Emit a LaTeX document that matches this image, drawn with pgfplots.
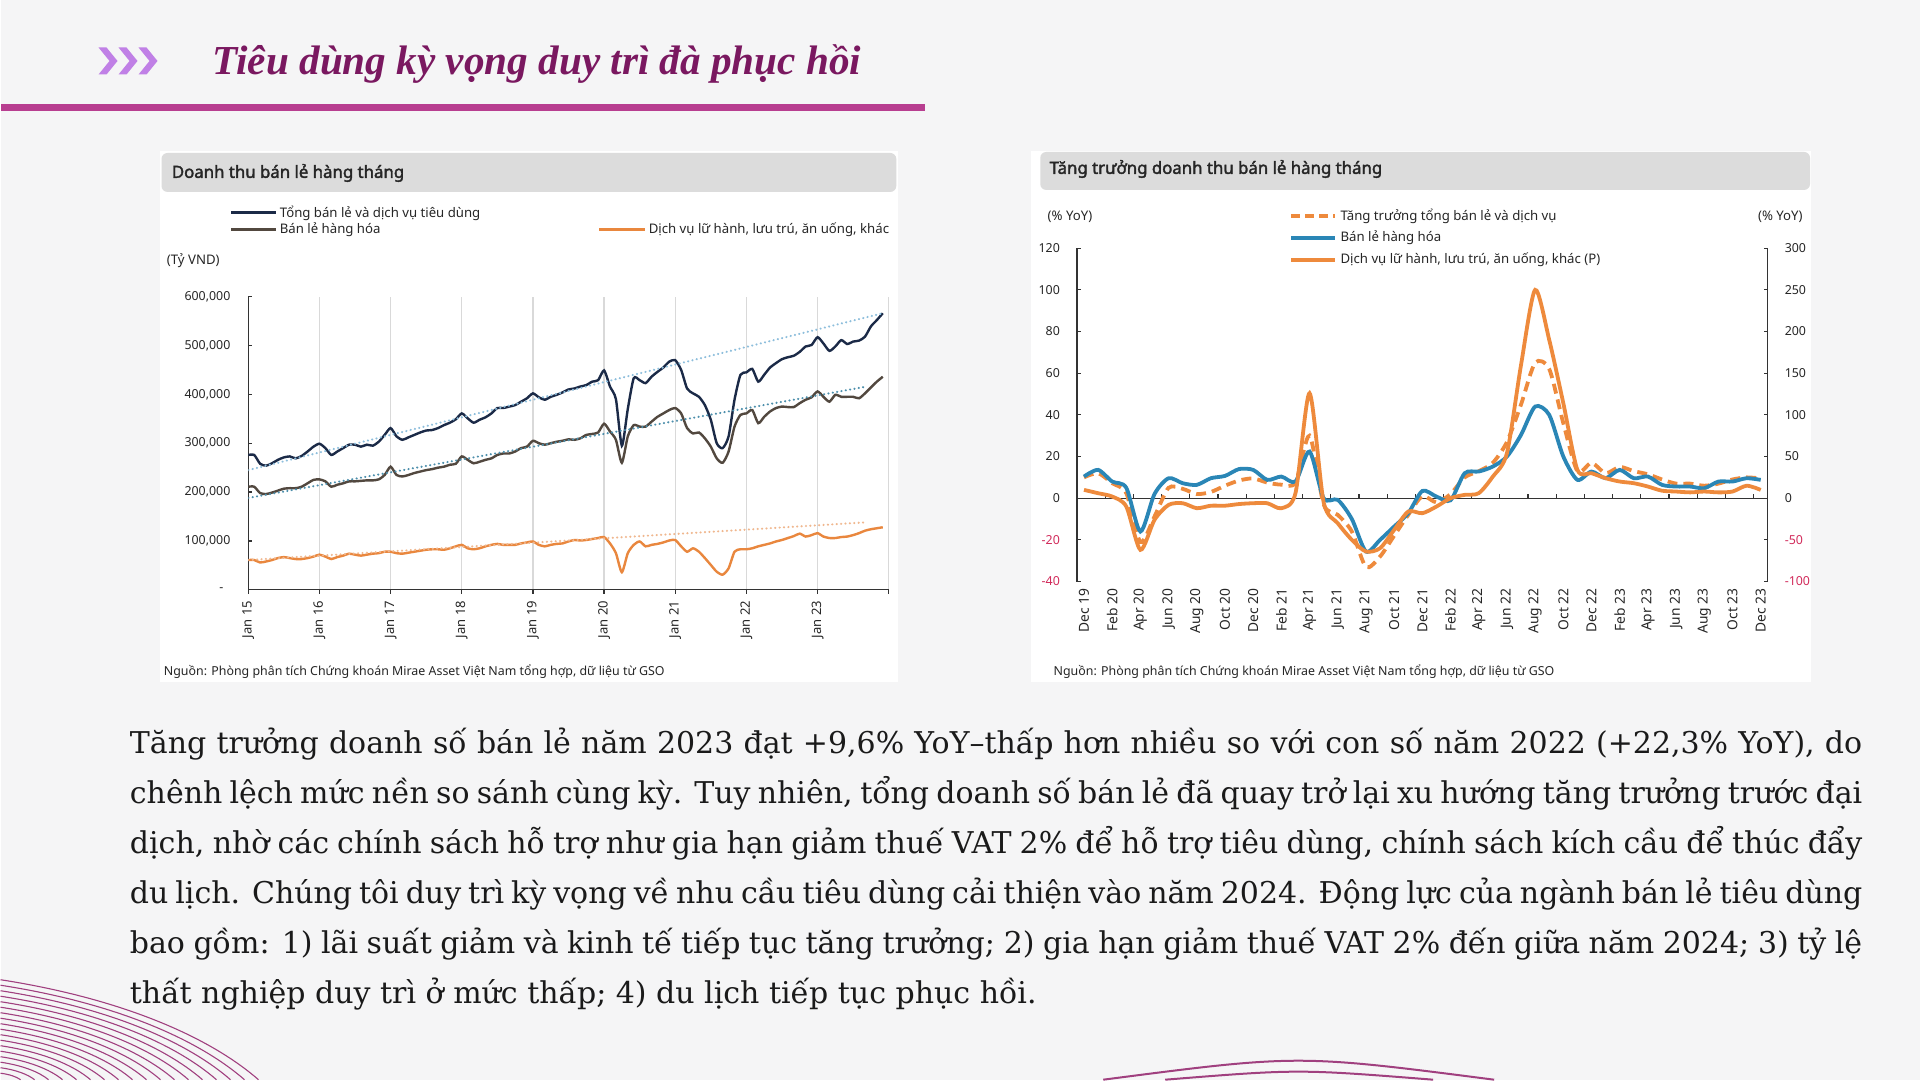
\documentclass[border=0pt]{standalone}
\usepackage{pgfplots}
\pgfplotsset{compat=1.18}
\usepackage{pgfplotstable}
\usepackage{fontspec}
\setmainfont{DejaVu Serif}
\newfontfamily\cf{Noto Sans}[AutoFakeBold=2.2]
\newfontfamily\tf{Liberation Serif}
\definecolor{bgc}{HTML}{F5F5F6}
\definecolor{titlec}{HTML}{7A1860}
\definecolor{magc}{HTML}{B83E90}
\definecolor{chevc}{HTML}{C080E6}
\definecolor{hdrc}{HTML}{DCDCDC}
\definecolor{navyc}{HTML}{1B2A47}
\definecolor{brownc}{HTML}{52483F}
\definecolor{orangec}{HTML}{E9873E}
\definecolor{trendb}{HTML}{8DBEDC}
\definecolor{trendt}{HTML}{4D8FAC}
\definecolor{trendo}{HTML}{F0B78E}
\definecolor{bluec}{HTML}{2A86B6}
\definecolor{orangeR}{HTML}{EE8A3C}
\definecolor{negc}{HTML}{D22B5B}
\definecolor{axisc}{HTML}{333333}
\definecolor{gridc}{HTML}{D9D9D9}
\definecolor{textc}{HTML}{262626}
\definecolor{bodyc}{HTML}{1A1A1A}
\definecolor{curvec}{HTML}{A0407F}

\pgfplotstableread{
m tot goods svc
0 276 211 61
1 276 211 61
2 258 198 56
3 254 196 58
4 259 199 61
5 266 203 65
6 271 207 67
7 273 208 65
8 269 208 63
9 274 211 63
10 283 218 65
11 293 225 68
12 299 226 72
13 290 222 68
14 276 211 63
15 283 215 67
16 290 218 70
17 297 222 74
18 297 222 72
19 293 223 70
20 297 224 72
21 295 224 74
22 303 226 75
23 317 235 78
24 331 252 78
25 314 235 75
26 307 232 74
27 312 235 76
28 317 239 78
29 322 242 80
30 326 245 82
31 327 247 83
32 331 250 83
33 337 252 82
34 342 256 85
35 349 258 89
36 361 273 92
37 351 266 85
38 342 259 83
39 348 262 85
40 353 266 89
41 361 269 92
42 372 276 94
43 372 279 92
44 375 279 92
45 378 283 92
46 385 290 95
47 392 293 97
48 402 305 99
49 394 300 92
50 389 297 89
51 395 300 92
52 399 303 94
53 404 305 95
54 410 308 99
55 412 307 102
56 416 310 101
57 419 317 102
58 426 319 104
59 429 322 106
60 449 340 108
61 416 324 95
62 390 307 75
63 295 260 36
64 370 314 75
65 433 337 92
66 429 334 99
67 423 334 89
68 436 344 92
69 446 354 94
70 455 361 97
71 467 368 101
72 470 372 102
73 450 361 89
74 412 331 78
75 402 320 85
76 395 322 78
77 378 310 65
78 348 293 51
79 300 269 37
80 290 260 31
81 314 283 44
82 389 334 78
83 440 358 83
84 445 361 83
85 452 368 85
86 426 341 89
87 440 354 92
88 455 365 95
89 464 372 99
90 472 375 102
91 476 374 106
92 479 374 110
93 487 382 115
94 498 389 109
95 501 394 112
96 517 406 116
97 504 395 109
98 489 385 106
99 498 399 106
100 511 395 108
101 503 395 109
102 508 395 112
103 510 392 116
104 518 402 121
105 539 414 124
106 552 426 126
107 566 436 128
}\leftdata

\pgfplotstableread{
m blue tot svc
0 10.4 10 10
1 13.6 12 6
2 8 7.2 2
3 5 2.4 -10
4 -16 -21 -62
5 2 -8.8 -26
6 9.6 5 -8
7 7.2 4.5 -6
8 6.4 2 -12
9 9.6 3 -9
10 10.7 6 -9
11 14 8.5 -7
12 13.6 9.5 -6
13 8.8 7.5 -6
14 10.4 6.5 -12
15 8 7.5 6
16 22.4 30 126
17 0 -3 -5
18 -0.8 -8 -30
19 -10 -16 -50
20 -25.6 -33 -64
21 -20 -28 -60
22 -13.6 -18 -38
23 -7.2 -8 -16
24 3.5 1 -18
25 0.8 -2 -10
26 -1 2 0
27 12 10 4
28 12.8 13 6
29 15.2 17 26
30 20 27 54
31 30.4 45 160
32 44 65 250
33 40 62 190
34 20 36 114
35 8.8 13 34
36 12.8 17 30
37 9.6 12 24
38 13.6 15 20
39 9.6 13 18
40 10.4 11.5 14
41 6.4 9 9
42 5.6 7 8
43 5.6 7 7
44 4.8 6 8
45 8 7 7
46 8 9 8
47 9.6 10 15
48 8.8 9.5 10
}\rightdata

\newcommand{\lf}{\cf\fontsize{6.6}{8}\selectfont}
\newcommand{\bline}[1]{\makebox[866.5pt][s]{#1}}

\begin{document}
\begin{tikzpicture}
\begin{scope}[x=0.5pt,y=-0.5pt]
\useasboundingbox (0,0) rectangle (1920,1080);
\fill[bgc] (0,0) rectangle (1920,1080);
% chevrons
\foreach \xo in {98,118,138}{
  \fill[chevc] (\xo,47.5) -- (\xo+8,47.5) -- (\xo+19,61) -- (\xo+8,74.5) -- (\xo,74.5) -- (\xo+11,61) -- cycle;
}
\node[anchor=west, inner sep=0, text=titlec] at (212,64) {\tf\bfseries\itshape\fontsize{20.6}{24}\selectfont Tiêu dùng kỳ vọng duy trì đà phục hồi};
\fill[magc] (0,104.5) rectangle (925,111.5);
% panels
\fill[white] (159,151) rectangle (898,682);
\fill[hdrc, rounded corners=3pt] (161,153) rectangle (896,192);
\node[anchor=west, inner sep=0, text=textc] at (171,173) {\cf\bfseries\fontsize{8.4}{10}\selectfont Doanh thu bán lẻ hàng tháng};
\fill[white] (1031,151) rectangle (1811,682);
\fill[hdrc, rounded corners=3pt] (1040,152) rectangle (1810,190);
\node[anchor=west, inner sep=0, text=textc] at (1049,169) {\cf\bfseries\fontsize{8.4}{10}\selectfont Tăng trưởng doanh thu bán lẻ hàng tháng};
% left legend
\draw[navyc, line width=1.5pt] (231,213) -- (276,213);
\node[anchor=west, inner sep=0, text=textc] at (279,213) {\lf Tổng bán lẻ và dịch vụ tiêu dùng};
\draw[brownc, line width=1.5pt] (231,230) -- (276,230);
\node[anchor=west, inner sep=0, text=textc] at (279,230) {\lf Bán lẻ hàng hóa};
\draw[orangec, line width=1.5pt] (599,230) -- (645,230);
\node[anchor=west, inner sep=0, text=textc] at (648,230) {\lf Dịch vụ lữ hành, lưu trú, ăn uống, khác};
\node[anchor=west, inner sep=0, text=textc] at (166,261) {\lf (Tỷ VND)};
\node[anchor=west, inner sep=0, text=textc] at (163,672) {\cf\fontsize{6.2}{7.5}\selectfont Nguồn: Phòng phân tích Chứng khoán Mirae Asset Việt Nam tổng hợp, dữ liệu từ GSO};
% right legend
\draw[orangeR, line width=2pt, dash pattern=on 4.5pt off 2.5pt] (1291,216) -- (1335,216);
\node[anchor=west, inner sep=0, text=textc] at (1340,216) {\lf Tăng trưởng tổng bán lẻ và dịch vụ};
\draw[bluec, line width=2pt] (1291,238) -- (1335,238);
\node[anchor=west, inner sep=0, text=textc] at (1340,238) {\lf Bán lẻ hàng hóa};
\draw[orangeR, line width=2pt] (1291,260) -- (1335,260);
\node[anchor=west, inner sep=0, text=textc] at (1340,260) {\lf Dịch vụ lữ hành, lưu trú, ăn uống, khác (P)};
\node[anchor=west, inner sep=0, text=textc] at (1047,217) {\lf (\% YoY)};
\node[anchor=east, inner sep=0, text=textc] at (1803,217) {\lf (\% YoY)};
\node[anchor=west, inner sep=0, text=textc] at (1053,672) {\cf\fontsize{6.2}{7.5}\selectfont Nguồn: Phòng phân tích Chứng khoán Mirae Asset Việt Nam tổng hợp, dữ liệu từ GSO};
\end{scope}

% ---------- left chart ----------
\begin{axis}[
  at={(123.9pt,-295pt)}, anchor=south west, scale only axis,
  width=320.3pt, height=146.65pt,
  xmin=0, xmax=108, ymin=0, ymax=600,
  axis x line*=bottom, axis y line*=left,
  axis line style={draw=axisc, line width=0.6pt},
  xtick={0,12,...,108},
  xticklabels={Jan 15,Jan 16,Jan 17,Jan 18,Jan 19,Jan 20,Jan 21,Jan 22,Jan 23,{}},
  xmajorgrids, grid style={gridc, line width=0.6pt},
  xtick align=outside, ytick align=inside,
  major tick length=2pt,
  tick style={axisc, line width=0.6pt},
  ytick={0,100,...,600},
  yticklabels={{-\hphantom{0}},{100,000},{200,000},{300,000},{400,000},{500,000},{600,000}},
  tick label style={font=\cf\fontsize{6.2}{7}\selectfont, text=textc},
  xticklabel style={rotate=90, anchor=east, font=\cf\fontsize{6.5}{7}\selectfont},
  yticklabel style={xshift=-5.4pt},
]
\addplot[orangec, line width=1.2pt, smooth, tension=0.4] table[x=m,y=svc]{\leftdata};
\addplot[brownc, line width=1.2pt, smooth, tension=0.4] table[x=m,y=goods]{\leftdata};
\addplot[navyc, line width=1.2pt, smooth, tension=0.4] table[x=m,y=tot]{\leftdata};
\addplot[trendb, line width=1.1pt, line cap=round, dash pattern=on 0.1pt off 2.1pt] coordinates {(0,245) (107,566)};
\addplot[trendt, line width=1.1pt, line cap=round, dash pattern=on 0.1pt off 2.1pt] coordinates {(0,188) (104.3,416)};
\addplot[trendo, line width=1.1pt, line cap=round, dash pattern=on 0.1pt off 2.1pt] coordinates {(0,61) (104,138)};
\end{axis}

% ---------- right chart, left axis ----------
\begin{axis}[
  at={(538.35pt,-290.85pt)}, anchor=south west, scale only axis,
  width=345.5pt, height=166.7pt,
  xmin=-0.5, xmax=48.5, ymin=-40, ymax=120,
  axis y line*=left, axis x line*=bottom,
  x axis line style={draw=none}, xtick style={draw=none},
  y axis line style={draw=axisc, line width=0.6pt},
  ytick align=inside, major tick length=2pt,
  ytick style={axisc, line width=0.6pt},
  xtick={0,2,...,48},
  xticklabels={Dec 19,Feb 20,Apr 20,Jun 20,Aug 20,Oct 20,Dec 20,Feb 21,Apr 21,Jun 21,Aug 21,Oct 21,Dec 21,Feb 22,Apr 22,Jun 22,Aug 22,Oct 22,Dec 22,Feb 23,Apr 23,Jun 23,Aug 23,Oct 23,Dec 23},
  ytick={-40,-20,...,120},
  yticklabels={\textcolor{negc}{-40},\textcolor{negc}{-20},0,20,40,60,80,100,120},
  tick label style={font=\cf\fontsize{6.2}{7}\selectfont, text=textc},
  xticklabel style={rotate=90, anchor=east, font=\cf\fontsize{6.9}{7.5}\selectfont},
  yticklabel style={xshift=-5pt},
]
\draw[axisc, line width=0.7pt] (axis cs:-0.5,0) -- (axis cs:48.5,0);
\pgfplotsinvokeforeach{1.5,3.5,...,47.5}{\draw[axisc, line width=0.6pt] (axis cs:#1,0) -- ++(0pt,2.2pt);}
\addplot[orangeR, line width=1.9pt, smooth, tension=0.45, dash pattern=on 5pt off 3pt] table[x=m,y=tot]{\rightdata};
\addplot[bluec, line width=1.9pt, smooth, tension=0.45] table[x=m,y=blue]{\rightdata};
\end{axis}

% ---------- right chart, right axis ----------
\begin{axis}[
  at={(538.35pt,-290.85pt)}, anchor=south west, scale only axis,
  width=345.5pt, height=166.7pt,
  xmin=-0.5, xmax=48.5, ymin=-100, ymax=300,
  axis y line*=right, axis x line=none,
  y axis line style={draw=axisc, line width=0.6pt},
  ytick align=inside, major tick length=2pt,
  ytick style={axisc, line width=0.6pt},
  ytick={-100,-50,...,300},
  yticklabels={\textcolor{negc}{-100},\textcolor{negc}{-50},0,50,100,150,200,250,300},
  tick label style={font=\cf\fontsize{6.2}{7}\selectfont, text=textc},
  yticklabel style={xshift=5pt},
]
\addplot[orangeR, line width=1.9pt, smooth, tension=0.45] table[x=m,y=svc]{\rightdata};
\end{axis}

\begin{scope}[x=0.5pt,y=-0.5pt]
% body text
\begin{scope}[every node/.style={anchor=base west, inner sep=0, text=bodyc, font=\fontsize{15}{18}\selectfont}]
\node at (129,754) {\bline{Tăng trưởng doanh số bán lẻ năm 2023 đạt +9,6\% YoY–thấp hơn nhiều so với con số năm 2022 (+22,3\% YoY), do}};
\node at (129,804) {\bline{chênh lệch mức nền so sánh cùng kỳ. Tuy nhiên, tổng doanh số bán lẻ đã quay trở lại xu hướng tăng trưởng trước đại}};
\node at (129,854) {\bline{dịch, nhờ các chính sách hỗ trợ như gia hạn giảm thuế VAT 2\% để hỗ trợ tiêu dùng, chính sách kích cầu để thúc đẩy}};
\node at (129,904) {\bline{du lịch. Chúng tôi duy trì kỳ vọng về nhu cầu tiêu dùng cải thiện vào năm 2024. Động lực của ngành bán lẻ tiêu dùng}};
\node at (129,954) {\bline{bao gồm: 1) lãi suất giảm và kinh tế tiếp tục tăng trưởng; 2) gia hạn giảm thuế VAT 2\% đến giữa năm 2024; 3) tỷ lệ}};
\node at (129,1004) {thất nghiệp duy trì ở mức thấp; 4) du lịch tiếp tục phục hồi.};
\end{scope}
% decorative curves
\foreach \i in {0,...,17}{
  \pgfmathsetmacro{\yo}{980+5.5*\i}
  \pgfmathsetmacro{\xe}{258-14*\i}
  \draw[curvec, line width=0.55pt] (0,\yo) .. controls ({0.45*\xe},{\yo+0.18*(1080-\yo)}) and ({0.8*\xe},{\yo+0.55*(1080-\yo)}) .. (\xe,1080);
}
\draw[curvec, line width=1pt] (1103,1080) .. controls (1298,1054.7) .. (1494,1080);
\draw[curvec, line width=1pt] (1165,1080) .. controls (1298,1069.3) .. (1433,1080);
\end{scope}
\end{tikzpicture}
\end{document}
